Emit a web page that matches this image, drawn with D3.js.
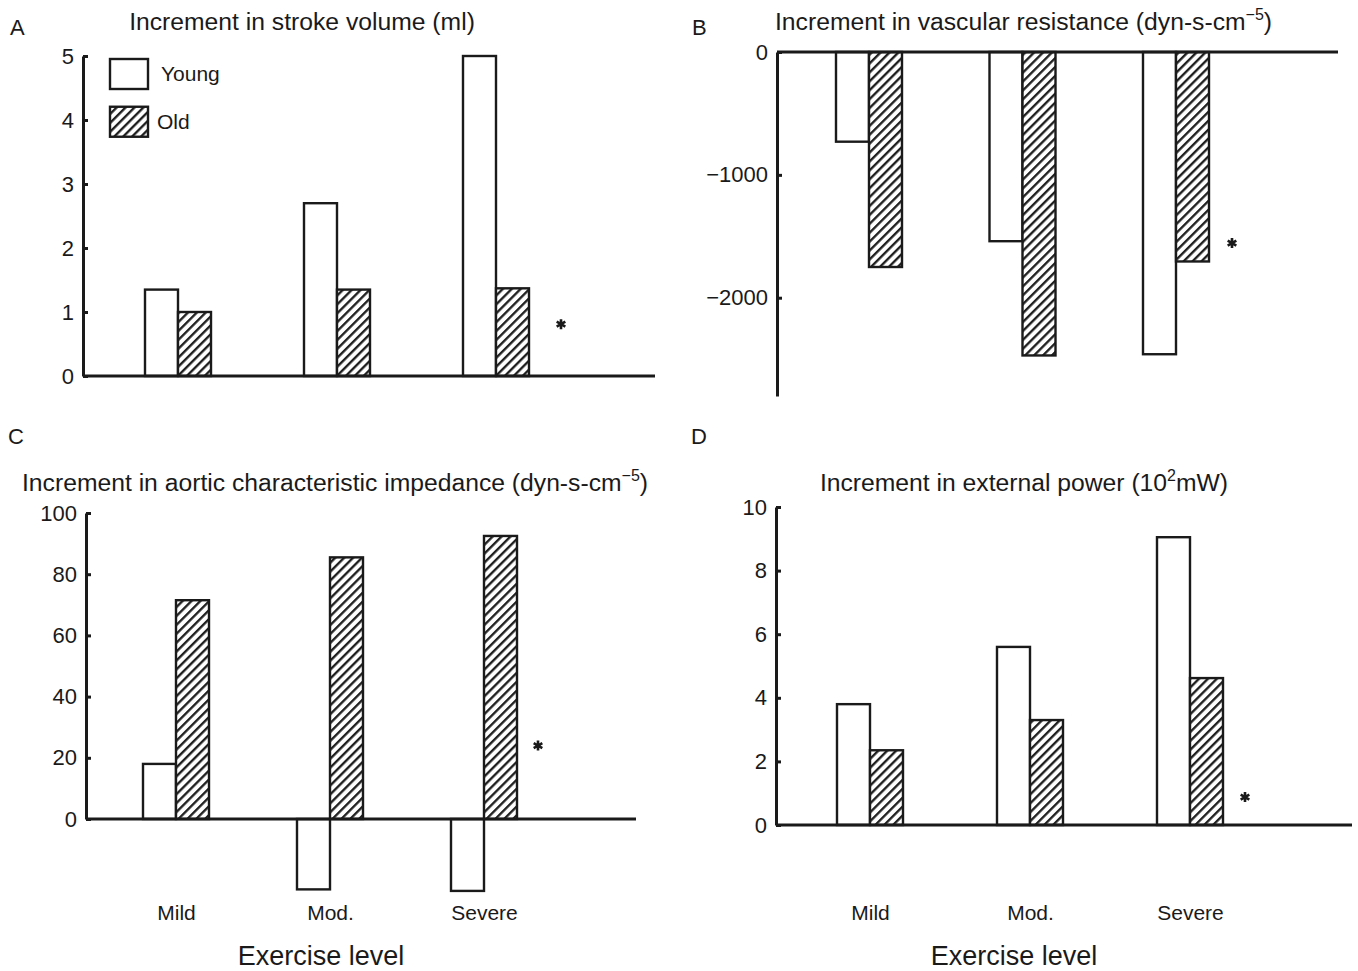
<!DOCTYPE html>
<html>
<head>
<meta charset="utf-8">
<script src="https://cdn.jsdelivr.net/npm/d3@7"></script>
<style>
  body { margin: 0; background: #fff; }
  text { font-family: "Liberation Sans", Arial, sans-serif; fill: #1a1a1a; }
</style>
</head>
<body>
<div id="plot"></div>
<script>
// Exercise levels and groups
const categories = ["Mild", "Mod.", "Severe"];
const groups = ["Young", "Old"];

// A: stroke volume (ml)
const strokeYoung = [1.35, 2.7, 5.0];
const strokeOld = [1.0, 1.35, 1.37];
// B: vascular resistance
const resistYoung = [-730, -1540, -2460];
const resistOld = [-1750, -2470, -1705];
// C: aortic characteristic impedance
const impedYoung = [18, -23, -23.5];
const impedOld = [71.5, 85.5, 92.5];
// D: external power (10^2 mW)
const powerYoung = [3.8, 5.6, 9.05];
const powerOld = [2.35, 3.3, 4.62];

// tick values
const strokeTicks = [0, 1, 2, 3, 4, 5];
const resistTicks = [0, -1000, -2000];
const impedTicks = [0, 20, 40, 60, 80, 100];
const powerTicks = [0, 2, 4, 6, 8, 10];

// where the significance star sits (y value)
const sigStroke = 0.81, sigResist = -1555, sigImped = 24, sigPower = 0.88;

const width = 1358, height = 971;

const svg = d3.select("#plot")
  .append("svg")
  .attr("width", width)
  .attr("height", height);

// hatch pattern for the old group
const hs = 6.3;
svg.append("defs")
  .append("pattern")
  .attr("id", "hatch")
  .attr("patternUnits", "userSpaceOnUse")
  .attr("width", hs)
  .attr("height", hs)
  .attr("patternTransform", "rotate(45)")
  .call(p => {
    p.append("rect").attr("width", hs).attr("height", hs).attr("fill", "#fff");
    p.append("line")
      .attr("x1", 1.2).attr("y1", 0).attr("x2", 1.2).attr("y2", hs)
      .attr("stroke", "#1a1a1a").attr("stroke-width", 2.3);
  });

const panels = [
  { letter: "A", young: strokeYoung, old: strokeOld, ticks: strokeTicks, domain: [0, 5],
    axisX: 83, endX: 655, yRange: [376, 56], xRange: [178, 496], sig: sigStroke, sigDx: 65,
    title: ["Increment in stroke volume (ml)"], titleX: 302, titleY: 30, anchor: "middle",
    letterX: 10, letterY: 35, legend: true, cats: false },
  { letter: "B", young: resistYoung, old: resistOld, ticks: resistTicks, domain: [-2800, 0],
    axisX: 777, endX: 1338, yRange: [396, 52], xRange: [869, 1176], sig: sigResist, sigDx: 56,
    title: ["Increment in vascular resistance (dyn-s-cm", "\u22125", ")"], titleX: 775, titleY: 30, anchor: "start",
    letterX: 692, letterY: 35, legend: false, cats: false },
  { letter: "C", young: impedYoung, old: impedOld, ticks: impedTicks, domain: [0, 100],
    axisX: 86, endX: 636, yRange: [819, 513], xRange: [176, 484], sig: sigImped, sigDx: 54,
    title: ["Increment in aortic characteristic impedance (dyn-s-cm", "\u22125", ")"], titleX: 22, titleY: 491, anchor: "start",
    letterX: 8, letterY: 444, legend: false, cats: true, labelX: 321 },
  { letter: "D", young: powerYoung, old: powerOld, ticks: powerTicks, domain: [0, 10],
    axisX: 776, endX: 1352, yRange: [825, 507], xRange: [870, 1190], sig: sigPower, sigDx: 55,
    title: ["Increment in external power (10", "2", "mW)"], titleX: 1024, titleY: 491, anchor: "middle",
    letterX: 691, letterY: 444, legend: false, cats: true, labelX: 1014 }
];

panels.forEach(p => {
  const g = svg.append("g");

  const x = d3.scalePoint().domain(categories).range(p.xRange);
  const xSub = d3.scaleBand().domain(groups).range([-33, 33]);
  const y = d3.scaleLinear().domain(p.domain).range(p.yRange);

  const rows = categories.map((c, i) => ({ cat: c, Young: p.young[i], Old: p.old[i] }));

  // bars
  g.selectAll(".grp")
    .data(rows)
    .join("g")
    .attr("transform", d => `translate(${x(d.cat)},0)`)
    .selectAll("rect")
    .data(d => groups.map(k => ({ key: k, value: d[k] })))
    .join("rect")
    .attr("x", d => xSub(d.key))
    .attr("width", xSub.bandwidth())
    .attr("y", d => Math.min(y(d.value), y(0)))
    .attr("height", d => Math.abs(y(d.value) - y(0)))
    .attr("fill", d => d.key === "Old" ? "url(#hatch)" : "#fff")
    .attr("stroke", "#1a1a1a")
    .attr("stroke-width", 2.4);

  // zero line
  g.append("line")
    .attr("x1", p.axisX).attr("x2", p.endX)
    .attr("y1", y(0)).attr("y2", y(0))
    .attr("stroke", "#1a1a1a")
    .attr("stroke-width", 3);

  // y axis, ticks pointing inward
  const ax = g.append("g")
    .attr("transform", `translate(${p.axisX},0)`)
    .call(d3.axisLeft(y).tickValues(p.ticks).tickFormat(d3.format("d"))
      .tickSizeInner(-5).tickSizeOuter(0).tickPadding(9));
  ax.select(".domain").attr("stroke", "#1a1a1a").attr("stroke-width", 3);
  ax.selectAll(".tick line").attr("stroke", "#1a1a1a").attr("stroke-width", 3);
  ax.selectAll(".tick text").style("font-size", "22px").attr("fill", "#1a1a1a");

  // significance star
  g.append("path")
    .attr("transform", `translate(${x("Severe") + p.sigDx},${y(p.sig)})`)
    .attr("d", d3.symbol(d3.symbolAsterisk, 70)())
    .attr("fill", "none")
    .attr("stroke", "#1a1a1a")
    .attr("stroke-width", 2.6);

  // title
  const t = g.append("text")
    .attr("x", p.titleX)
    .attr("y", p.titleY)
    .attr("text-anchor", p.anchor)
    .style("font-size", "24.7px");
  t.append("tspan").text(p.title[0]);
  if (p.title.length > 1) {
    t.append("tspan").attr("dy", -10).style("font-size", "16px").text(p.title[1]);
    t.append("tspan").attr("dy", 10).text(p.title[2]);
  }

  // panel letter
  g.append("text")
    .attr("x", p.letterX)
    .attr("y", p.letterY)
    .style("font-size", "22px")
    .text(p.letter);

  // category labels and axis title
  if (p.cats) {
    const cx = g.append("g")
      .attr("transform", "translate(0,905)")
      .call(d3.axisBottom(x).tickSize(0).tickPadding(0));
    cx.select(".domain").remove();
    cx.selectAll(".tick text").style("font-size", "21px").attr("fill", "#1a1a1a");

    g.append("text")
      .attr("x", p.labelX)
      .attr("y", 965)
      .attr("text-anchor", "middle")
      .style("font-size", "27px")
      .text("Exercise level");
  }

  // legend
  if (p.legend) {
    const lg = g.append("g").attr("transform", "translate(110,59)");
    const ly = d3.scaleBand().domain(groups).range([0, 74]).paddingInner(0.45);
    lg.selectAll("rect")
      .data(groups)
      .join("rect")
      .attr("x", 0)
      .attr("y", d => ly(d))
      .attr("width", 38)
      .attr("height", 30)
      .attr("fill", d => d === "Old" ? "url(#hatch)" : "#fff")
      .attr("stroke", "#1a1a1a")
      .attr("stroke-width", 2.4);
    lg.selectAll("text")
      .data(groups)
      .join("text")
      .attr("x", d => d === "Old" ? 47 : 51)
      .attr("y", d => ly(d) + 15)
      .attr("dy", "0.35em")
      .style("font-size", "21px")
      .text(d => d);
  }
});
</script>
</body>
</html>
